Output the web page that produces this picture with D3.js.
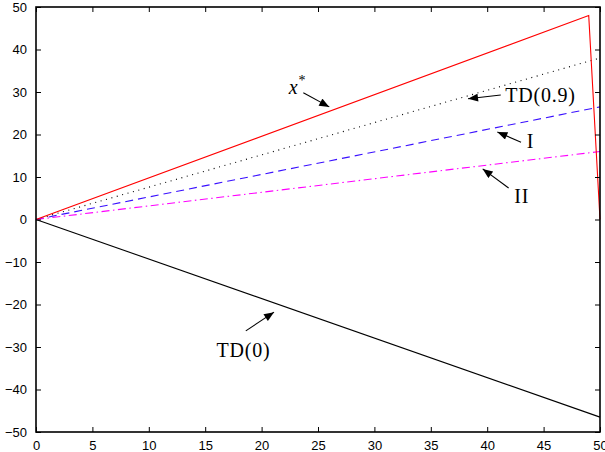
<!DOCTYPE html>
<html><head><meta charset="utf-8">
<script src="https://cdn.jsdelivr.net/npm/d3@7"></script>
<style>body{margin:0;background:#fff}svg{display:block}</style>
</head><body>
<svg id="c" width="605" height="452"></svg>
<script>
// Data
const xLine = [0, 50];
const td0 = [0, -46.5];
const td09 = [0, 38];
const seriesI = [0, 26.5];
const seriesII = [0, 16];
const xStarX = [0, 49, 50];
const xStarY = [0, 48, 0];
const xTicks = [0, 5, 10, 15, 20, 25, 30, 35, 40, 45, 50];
const yTicks = [-50, -40, -30, -20, -10, 0, 10, 20, 30, 40, 50];

// annotations
const annLabels = ["x*", "TD(0.9)", "I", "II", "TD(0)"];
const annText = [[22.4, 29.6], [41.6, 27.6], [43.5, 16.8], [42.4, 3.9], [16.0, -32.4]];
const annTail = [[23.7, 29.8], [41.2, 29.3], [43.0, 18.2], [41.9, 7.4], [18.6, -26.2]];
const annHead = [[26.0, 26.5], [38.3, 28.4], [40.9, 20.6], [39.6, 11.9], [21.1, -21.8]];

const L = 36, R = 600, T = 7, B = 432;
const svg = d3.select("#c");
const x = d3.scaleLinear().domain([0, 50]).range([L, R]);
const y = d3.scaleLinear().domain([-50, 50]).range([B, T]);

const line = d3.line().x(d => x(d[0])).y(d => y(d[1]));
const series = [
  {vals: xLine.map((v,i)=>[v, td0[i]]), color: "#000", dash: null},
  {vals: xLine.map((v,i)=>[v, td09[i]]), color: "#000", dash: "1,4.6"},
  {vals: xLine.map((v,i)=>[v, seriesI[i]]), color: "#3a10ff", dash: "8,5"},
  {vals: xLine.map((v,i)=>[v, seriesII[i]]), color: "#ff00ff", dash: "8,3.5,1.5,3.5"},
  {vals: xStarX.map((v,i)=>[v, xStarY[i]]), color: "#ff0000", dash: null}
];
svg.append("g").selectAll("path").data(series).join("path")
  .attr("d", d => line(d.vals)).attr("fill", "none")
  .attr("stroke", d => d.color).attr("stroke-width", 1.1)
  .attr("stroke-dasharray", d => d.dash);

// axes box
const tl = 5;
const gx = svg.append("g").attr("transform", `translate(0,${B})`)
  .call(d3.axisBottom(x).tickValues(xTicks).tickSize(-tl).tickPadding(9).tickFormat(d3.format("d")));
const gxt = svg.append("g").attr("transform", `translate(0,${T})`)
  .call(d3.axisTop(x).tickValues(xTicks).tickSize(-tl).tickFormat(""));
const gy = svg.append("g").attr("transform", `translate(${L},0)`)
  .call(d3.axisLeft(y).tickValues(yTicks).tickSize(-tl).tickPadding(9).tickFormat(d => d3.format("d")(d).replace("-", "\u2212")));
const gyr = svg.append("g").attr("transform", `translate(${R},0)`)
  .call(d3.axisRight(y).tickValues(yTicks).tickSize(-tl).tickFormat(""));
[gx, gxt, gy, gyr].forEach(g => {
  g.select(".domain").remove();
  g.selectAll("line").attr("stroke", "#000").attr("stroke-width", 1);
  g.selectAll("text").attr("font-family", "Liberation Sans, Arial, sans-serif").attr("font-size", 13).attr("fill", "#000");
});
svg.append("rect").attr("x", L).attr("y", T).attr("width", R - L).attr("height", B - T)
  .attr("fill", "none").attr("stroke", "#000").attr("stroke-width", 1.6);

// arrows
svg.append("defs").append("marker").attr("id", "ah").attr("viewBox", "0 0 10 8")
  .attr("refX", 10).attr("refY", 4).attr("markerWidth", 11).attr("markerHeight", 8)
  .attr("markerUnits", "userSpaceOnUse").attr("orient", "auto")
  .append("path").attr("d", "M0,0L10,4L0,8Z").attr("fill", "#000");
svg.append("g").selectAll("line").data(annLabels.map((l,i)=>i)).join("line")
  .attr("x1", i => x(annTail[i][0])).attr("y1", i => y(annTail[i][1]))
  .attr("x2", i => x(annHead[i][0])).attr("y2", i => y(annHead[i][1]))
  .attr("stroke", "#000").attr("stroke-width", 1.1).attr("marker-end", "url(#ah)");

const tg = svg.append("g").attr("font-family", "Liberation Serif, Times New Roman, serif")
  .attr("font-size", 20).attr("fill", "#000");
annLabels.forEach((lab, i) => {
  const t = tg.append("text").attr("x", x(annText[i][0])).attr("y", y(annText[i][1])).attr("fill", "#000");
  if (lab === "x*") {
    t.append("tspan").attr("font-style", "italic").attr("fill", "#000").text("x");
    t.append("tspan").attr("dy", -9).attr("dx", 1).attr("font-size", 14).attr("fill", "#000").text("*");
  } else {
    t.attr("letter-spacing", 0.8).text(lab);
  }
});
</script>
</body></html>
